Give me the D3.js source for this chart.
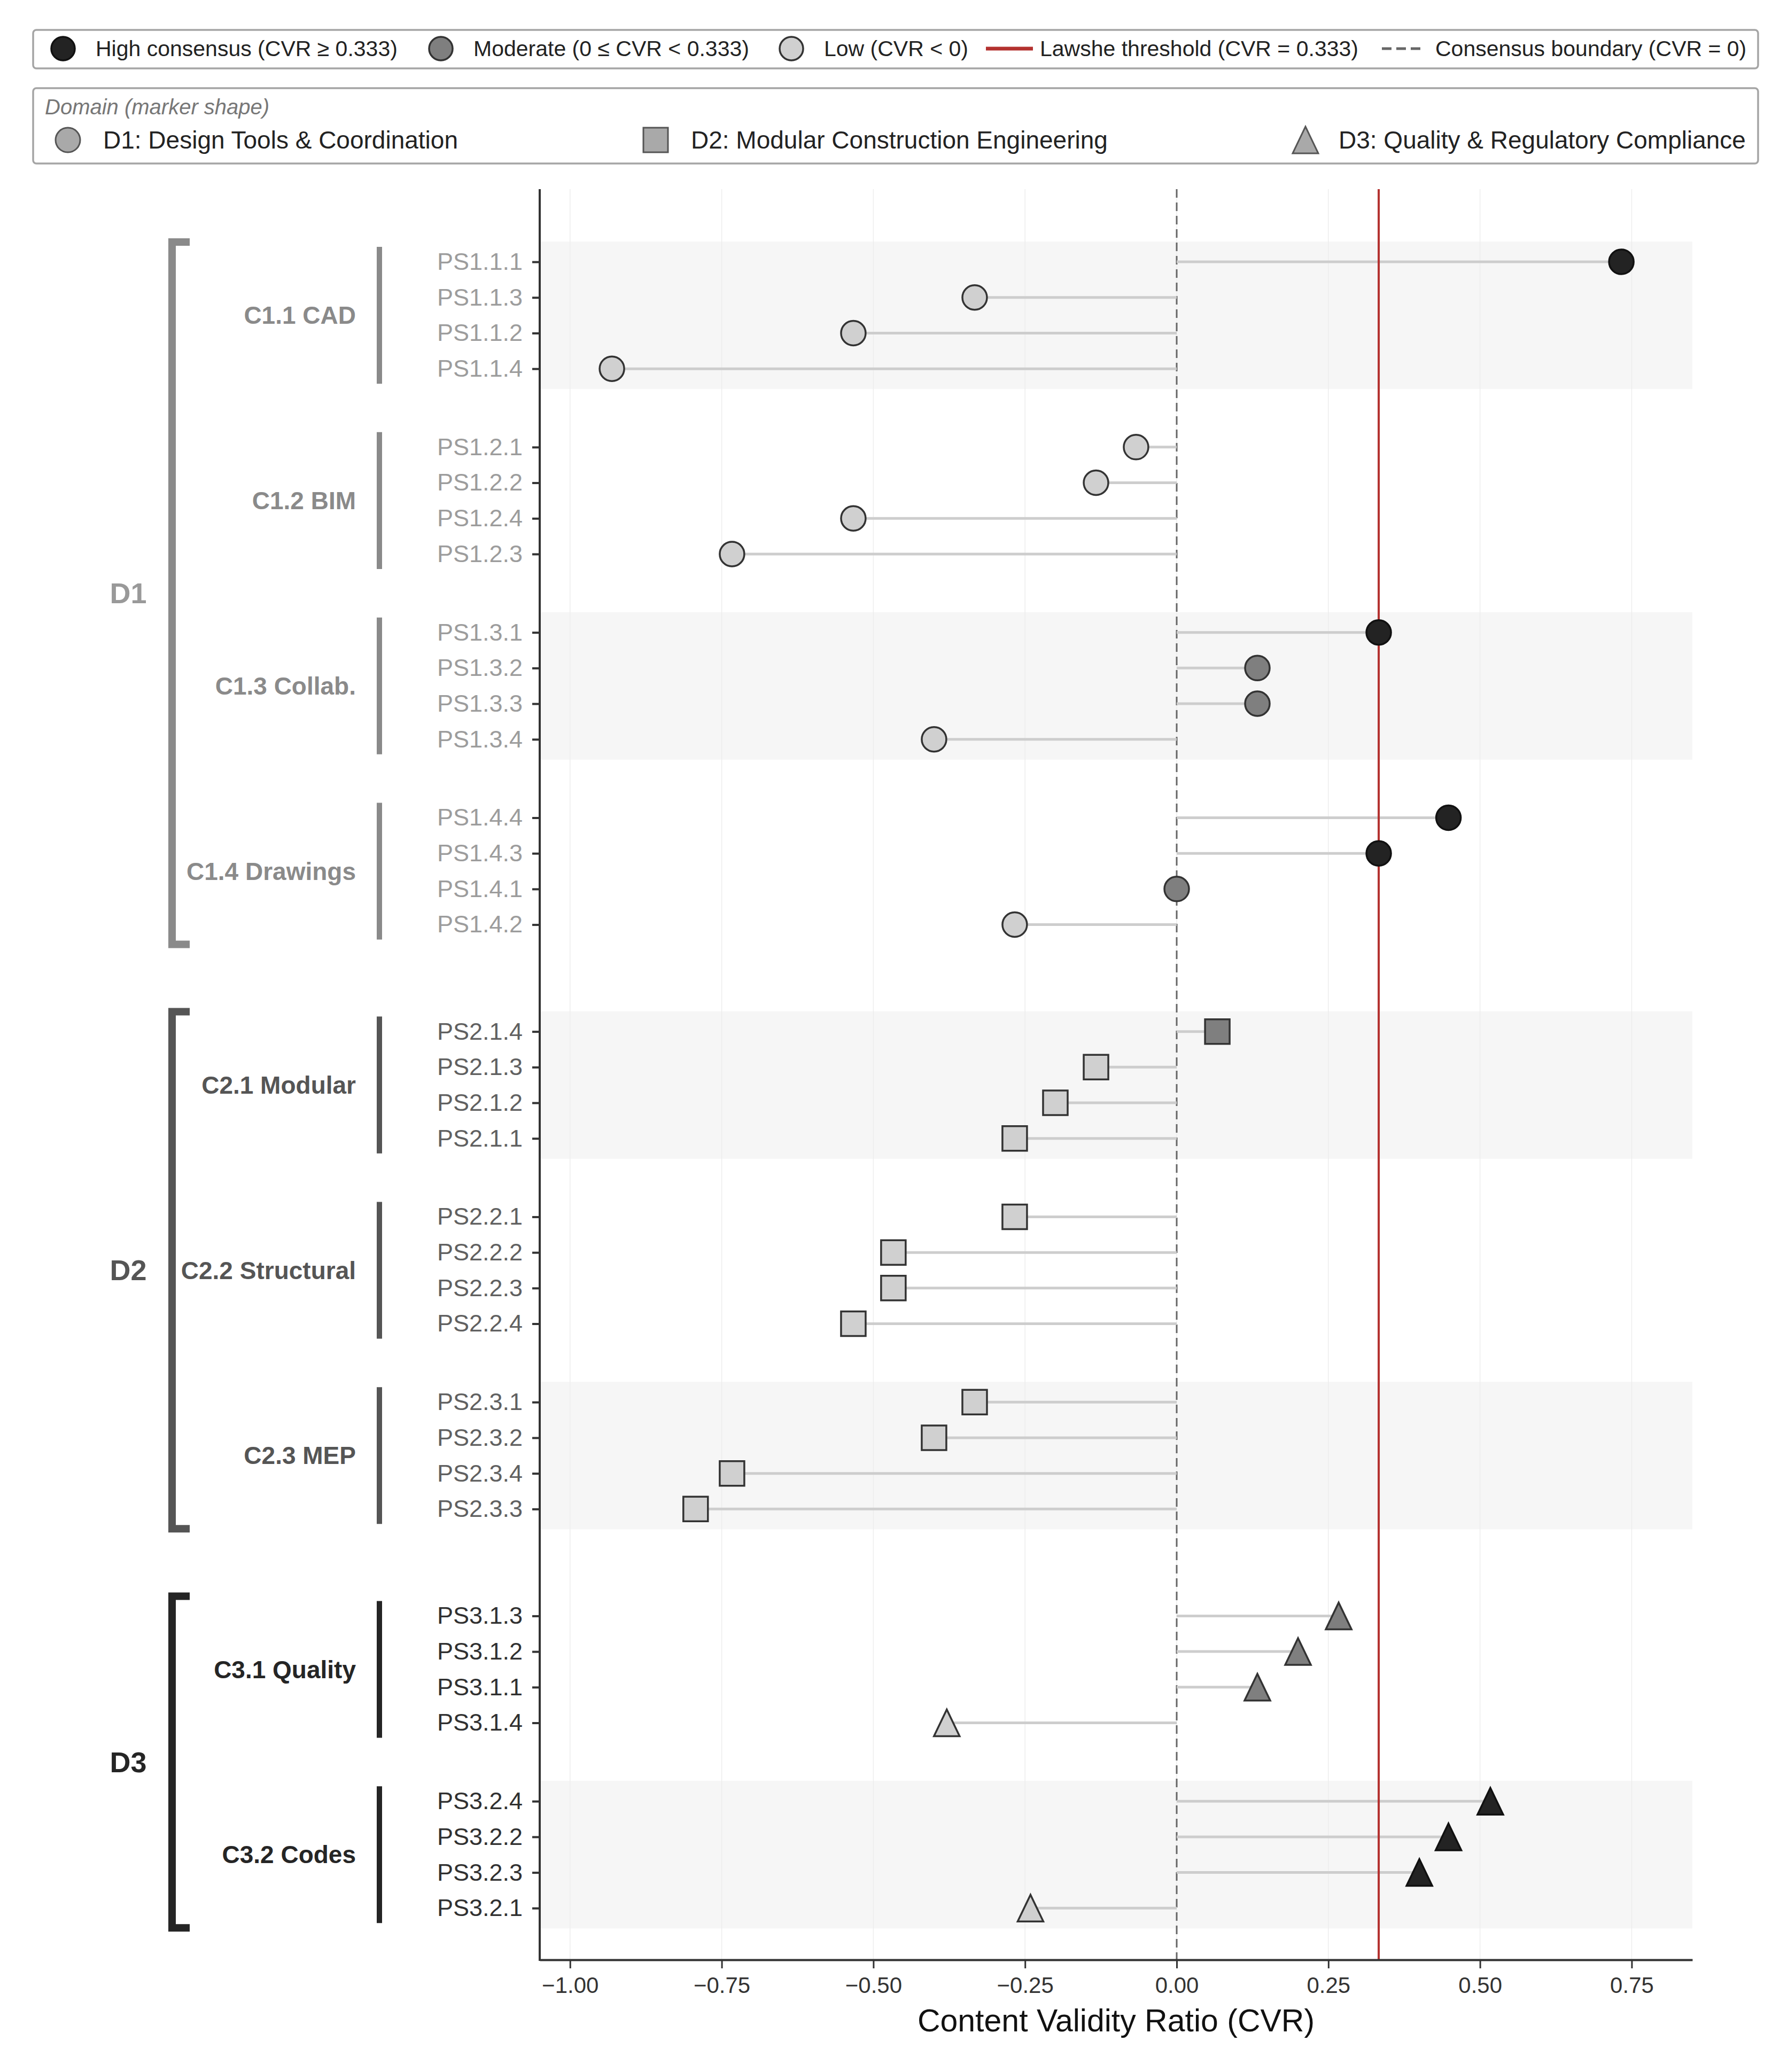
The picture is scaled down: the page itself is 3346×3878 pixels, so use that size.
<!DOCTYPE html>
<html>
<head>
  <meta charset="utf-8">
  <title>CVR Lollipop</title>
  <script src="https://d3js.org/d3.v7.min.js"></script>
  <style>
    body { margin: 0; background: #fff; }
    text { font-family: "Liberation Sans", Arial, sans-serif; }
  </style>
</head>
<body>
  <script>
    // data
    const domainIds = ['D1', 'D2', 'D3'];
    const domainNames = ['D1: Design Tools & Coordination', 'D2: Modular Construction Engineering', 'D3: Quality & Regulatory Compliance'];
    const clusterNames = ['C1.1 CAD', 'C1.2 BIM', 'C1.3 Collab.', 'C1.4 Drawings', 'C2.1 Modular', 'C2.2 Structural', 'C2.3 MEP', 'C3.1 Quality', 'C3.2 Codes'];
    const clusterDomain = ['D1', 'D1', 'D1', 'D1', 'D2', 'D2', 'D2', 'D3', 'D3'];
    const itemLabels = [
      ['PS1.1.1', 'PS1.1.3', 'PS1.1.2', 'PS1.1.4'],
      ['PS1.2.1', 'PS1.2.2', 'PS1.2.4', 'PS1.2.3'],
      ['PS1.3.1', 'PS1.3.2', 'PS1.3.3', 'PS1.3.4'],
      ['PS1.4.4', 'PS1.4.3', 'PS1.4.1', 'PS1.4.2'],
      ['PS2.1.4', 'PS2.1.3', 'PS2.1.2', 'PS2.1.1'],
      ['PS2.2.1', 'PS2.2.2', 'PS2.2.3', 'PS2.2.4'],
      ['PS2.3.1', 'PS2.3.2', 'PS2.3.4', 'PS2.3.3'],
      ['PS3.1.3', 'PS3.1.2', 'PS3.1.1', 'PS3.1.4'],
      ['PS3.2.4', 'PS3.2.2', 'PS3.2.3', 'PS3.2.1']
    ];
    const cvrValues = [
      [0.733, -0.333, -0.533, -0.931],
      [-0.067, -0.133, -0.533, -0.733],
      [0.333, 0.133, 0.133, -0.4],
      [0.448, 0.333, 0, -0.267],
      [0.067, -0.133, -0.2, -0.267],
      [-0.267, -0.467, -0.467, -0.533],
      [-0.333, -0.4, -0.733, -0.793],
      [0.267, 0.2, 0.133, -0.379],
      [0.517, 0.448, 0.4, -0.241]
    ];
    const xTickValues = [-1, -0.75, -0.5, -0.25, 0, 0.25, 0.5, 0.75];
    const lawshe = 0.333;
    const consensusLabels = ['High consensus (CVR \u2265 0.333)', 'Moderate (0 \u2264 CVR < 0.333)', 'Low (CVR < 0)'];
    const lineLabels = ['Lawshe threshold (CVR = 0.333)', 'Consensus boundary (CVR = 0)'];

    // styling
    const W = 3346, H = 3878;
    const levelFill = { high: '#232323', mod: '#7f7f7f', low: '#d0d0d0' };
    const domColor = { D1: '#8a8a8a', D2: '#555555', D3: '#252525' };
    const tickColor = { D1: '#9c9c9c', D2: '#606060', D3: '#303030' };
    const level = v => v >= lawshe ? 'high' : (v >= 0 ? 'mod' : 'low');

    // layout positions in row units
    const rows = [];
    const clusterSpan = [];
    let pos = 0;
    clusterNames.forEach((c, ci) => {
      if (ci > 0) pos += clusterDomain[ci] === clusterDomain[ci - 1] ? 2.2 : 3.0;
      const first = pos;
      itemLabels[ci].forEach((lab, i) => {
        if (i > 0) pos += 1;
        rows.push({ label: lab, value: cvrValues[ci][i], pos: pos, domain: clusterDomain[ci], cluster: ci });
      });
      clusterSpan.push({ name: c, domain: clusterDomain[ci], first: first, last: pos, idx: ci });
    });

    const svg = d3.select('body').append('svg')
      .attr('width', W).attr('height', H);

    const x = d3.scaleLinear().domain([-1.05, 0.85]).range([1010, 3167]);
    const y = d3.scaleLinear().domain([-2.04, pos + 1.45]).range([354, 3668]);
    const yItem = d3.scaleOrdinal().domain(rows.map(d => d.label)).range(rows.map(d => y(d.pos)));

    // background bands
    svg.append('g').selectAll('rect')
      .data(clusterSpan.filter(d => d.idx % 2 === 0))
      .join('rect')
      .attr('x', x.range()[0]).attr('width', x.range()[1] - x.range()[0])
      .attr('y', d => y(d.first - 0.57))
      .attr('height', d => y(d.last + 0.57) - y(d.first - 0.57))
      .attr('fill', '#f6f6f6');

    // vertical grid
    svg.append('g').selectAll('line')
      .data(xTickValues)
      .join('line')
      .attr('x1', d => x(d)).attr('x2', d => x(d))
      .attr('y1', y.range()[0]).attr('y2', y.range()[1])
      .attr('stroke', '#ededed').attr('stroke-width', 1.5);

    // reference lines
    svg.append('line')
      .attr('x1', x(0)).attr('x2', x(0))
      .attr('y1', y.range()[0]).attr('y2', y.range()[1])
      .attr('stroke', '#666').attr('stroke-width', 3)
      .attr('stroke-dasharray', '16,9');

    // stems
    svg.append('g').selectAll('line')
      .data(rows)
      .join('line')
      .attr('x1', x(0)).attr('x2', d => x(d.value))
      .attr('y1', d => y(d.pos)).attr('y2', d => y(d.pos))
      .attr('stroke', '#cdcdcd').attr('stroke-width', 5);

    svg.append('line')
      .attr('x1', x(lawshe)).attr('x2', x(lawshe))
      .attr('y1', y.range()[0]).attr('y2', y.range()[1])
      .attr('stroke', '#b3312f').attr('stroke-width', 4);

    // markers
    const shapePath = {
      D1: 'M23,0A23,23 0 1,1 -23,0A23,23 0 1,1 23,0Z',
      D2: 'M-23,-23H23V23H-23Z',
      D3: 'M0,-25L24,25L-24,25Z'
    };
    svg.append('g').selectAll('path')
      .data(rows)
      .join('path')
      .attr('transform', d => `translate(${x(d.value)},${y(d.pos)})`)
      .attr('d', d => shapePath[d.domain])
      .attr('fill', d => levelFill[level(d.value)])
      .attr('stroke', d => level(d.value) === 'high' ? '#111' : '#333')
      .attr('stroke-width', 3.5);

    // axes
    const xAxis = svg.append('g')
      .attr('transform', `translate(0,${y.range()[1]})`)
      .call(d3.axisBottom(x).tickValues(xTickValues).tickFormat(d3.format('.2f')).tickSize(16).tickSizeOuter(0));
    xAxis.select('.domain').attr('stroke', '#333').attr('stroke-width', 4);
    xAxis.selectAll('.tick line').attr('stroke', '#333').attr('stroke-width', 3);
    xAxis.selectAll('.tick text').attr('dy', null).attr('y', 62)
      .style('font-size', '42px').attr('fill', '#333');

    svg.append('text')
      .attr('x', (x.range()[0] + x.range()[1]) / 2).attr('y', 3802)
      .attr('text-anchor', 'middle')
      .style('font-size', '59px').attr('fill', '#111')
      .text('Content Validity Ratio (CVR)');

    const yAxis = svg.append('g')
      .attr('transform', `translate(${x.range()[0]},0)`)
      .call(d3.axisLeft(yItem).tickSize(14).tickPadding(18).tickSizeOuter(0));
    yAxis.select('.domain').remove();
    yAxis.selectAll('.tick line').attr('stroke', '#333').attr('stroke-width', 4);
    yAxis.selectAll('.tick text')
      .style('font-size', '45px')
      .attr('fill', (d, i) => tickColor[rows[i].domain]);
    svg.append('line')
      .attr('x1', x.range()[0]).attr('x2', x.range()[0])
      .attr('y1', y.range()[0]).attr('y2', y.range()[1] + 2)
      .attr('stroke', '#333').attr('stroke-width', 4);

    // cluster bars and labels
    const cg = svg.append('g');
    cg.selectAll('line')
      .data(clusterSpan)
      .join('line')
      .attr('x1', 710).attr('x2', 710)
      .attr('y1', d => y(d.first - 0.42)).attr('y2', d => y(d.last + 0.42))
      .attr('stroke', d => domColor[d.domain]).attr('stroke-width', 10);
    cg.selectAll('text')
      .data(clusterSpan)
      .join('text')
      .attr('x', 666).attr('y', d => y((d.first + d.last) / 2))
      .attr('dy', '0.35em').attr('text-anchor', 'end')
      .style('font-size', '46px').style('font-weight', 'bold')
      .attr('fill', d => domColor[d.domain])
      .text(d => d.name);

    // domain brackets
    const domSpan = domainIds.map(id => {
      const cs = clusterSpan.filter(c => c.domain === id);
      return { id: id, first: cs[0].first, last: cs[cs.length - 1].last };
    });
    const dg = svg.append('g');
    dg.selectAll('path')
      .data(domSpan)
      .join('path')
      .attr('d', d => {
        const t = y(d.first - 0.66), b = y(d.last + 0.66);
        return `M355,${t + 7}H322V${b - 7}H355`;
      })
      .attr('fill', 'none')
      .attr('stroke', d => domColor[d.id]).attr('stroke-width', 14);
    dg.selectAll('text')
      .data(domSpan)
      .join('text')
      .attr('x', 240).attr('y', d => y((d.first + d.last) / 2))
      .attr('dy', '0.35em').attr('text-anchor', 'middle')
      .style('font-size', '54px').style('font-weight', 'bold')
      .attr('fill', d => d.id === 'D1' ? '#999' : domColor[d.id])
      .text(d => d.id);

    // legend 1: consensus levels and lines
    const lg1 = svg.append('g');
    lg1.append('rect').attr('x', 62).attr('y', 56).attr('width', 3228).attr('height', 72)
      .attr('rx', 6).attr('fill', '#fff').attr('stroke', '#a5a5a5').attr('stroke-width', 3.5);
    const levelKeys = ['high', 'mod', 'low'];
    const lev1X = [118, 825, 1481];
    levelKeys.forEach((k, i) => {
      lg1.append('circle').attr('cx', lev1X[i]).attr('cy', 91).attr('r', 22)
        .attr('fill', levelFill[k]).attr('stroke', k === 'high' ? '#111' : '#333').attr('stroke-width', 3.5);
      lg1.append('text').attr('x', lev1X[i] + 61).attr('y', 91).attr('dy', '0.35em')
        .style('font-size', '41px').attr('fill', '#222').text(consensusLabels[i]);
    });
    lg1.append('line').attr('x1', 1845).attr('x2', 1933).attr('y1', 91).attr('y2', 91)
      .attr('stroke', '#b3312f').attr('stroke-width', 7);
    lg1.append('text').attr('x', 1946).attr('y', 91).attr('dy', '0.35em')
      .style('font-size', '41px').attr('fill', '#222').text(lineLabels[0]);
    lg1.append('line').attr('x1', 2586).attr('x2', 2666).attr('y1', 91).attr('y2', 91)
      .attr('stroke', '#666').attr('stroke-width', 5).attr('stroke-dasharray', '18,9');
    lg1.append('text').attr('x', 2686).attr('y', 91).attr('dy', '0.35em')
      .style('font-size', '41px').attr('fill', '#222').text(lineLabels[1]);

    // legend 2: domain shapes
    const lg2 = svg.append('g');
    lg2.append('rect').attr('x', 62).attr('y', 165).attr('width', 3228).attr('height', 141)
      .attr('rx', 6).attr('fill', '#fff').attr('stroke', '#a5a5a5').attr('stroke-width', 3.5);
    lg2.append('text').attr('x', 84).attr('y', 200).attr('dy', '0.35em')
      .style('font-size', '40px').style('font-style', 'italic').attr('fill', '#777')
      .text('Domain (marker shape)');
    const domLegX = [127, 1227, 2443];
    domainIds.forEach((id, i) => {
      lg2.append('path').attr('transform', `translate(${domLegX[i]},262)`)
        .attr('d', shapePath[id]).attr('fill', '#a9a9a9').attr('stroke', '#555').attr('stroke-width', 3);
      lg2.append('text').attr('x', domLegX[i] + (i === 2 ? 62 : 66)).attr('y', 262).attr('dy', '0.35em')
        .style('font-size', '46px').attr('fill', '#222').text(domainNames[i]);
    });
  </script>
</body>
</html>
